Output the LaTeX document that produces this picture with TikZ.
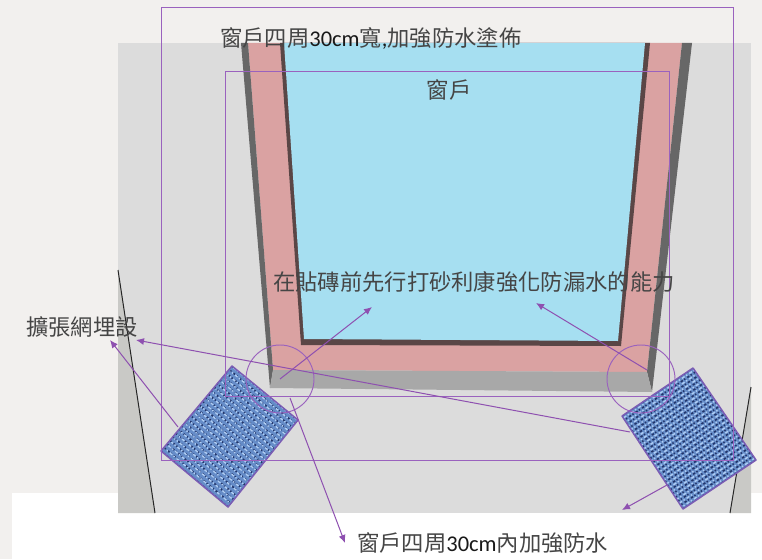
\documentclass[tikz,border=0pt]{standalone}
\usepackage{fontspec}
\setmainfont{Carlito}
\newfontfamily\cjk{Noto Sans CJK TC}
\usetikzlibrary{calc,arrows.meta}
\definecolor{pageBg}{HTML}{F2F0EE}
\definecolor{wallGray}{HTML}{DCDCDC}
\definecolor{sideGray}{HTML}{C9C9C6}
\definecolor{glass}{HTML}{A6DFF1}
\definecolor{pinkBand}{HTML}{DAA2A2}
\definecolor{darkSide}{HTML}{676767}
\definecolor{sillGray}{HTML}{A8A8A8}
\definecolor{innerDark}{HTML}{5A4646}
\definecolor{purpleLine}{HTML}{9A62BE}
\definecolor{arrowPurple}{HTML}{8E50B0}
\definecolor{meshBase}{HTML}{658CC8}
\definecolor{meshDark}{HTML}{22356A}
\definecolor{meshLight}{HTML}{B0CEF4}
\definecolor{meshEdge}{HTML}{7A5CB4}
\definecolor{labelInk}{HTML}{454545}
\tikzset{
  frameline/.style={draw=purpleLine,line width=0.95pt},
  callout/.style={draw=arrowPurple,line width=1pt,-{Latex[length=8pt,width=7pt]}},
  lbl/.style={text=labelInk,inner sep=0pt,font=\fontsize{22.3}{24}\selectfont\cjk},
}
\newcommand{\latinpart}[1]{{\fontsize{22.5}{24}\selectfont\rmfamily\color{black!90}#1}}
\newcommand{\meshpatch}[4]{%
  \begin{scope}
    \clip #1 -- #2 -- #3 -- #4 -- cycle;
    \fill[meshBase] #1 -- #2 -- #3 -- #4 -- cycle;
    \foreach \i in {0,...,24}{
      \pgfmathsetmacro{\t}{\i/24}
      \pgfmathsetmacro{\ph}{mod(\i*2.3,5)}
      \pgfmathsetmacro{\phb}{mod(\i*3.1,4)}
      \draw[meshDark,line width=1.6pt,dash pattern=on 2.4pt off 1.6pt on 1.4pt off 2.4pt,dash phase=\ph pt]
        ($#1!\t!#4$) -- ($#2!\t!#3$);
      \draw[meshLight,line width=1.4pt,dash pattern=on 3.2pt off 1.8pt on 1.4pt off 2.4pt,dash phase=\phb pt]
        ($($#1!\t!#4$)+(1.6,1.8)$) -- ($($#2!\t!#3$)+(1.6,1.8)$);
    }
  \end{scope}
  \draw[meshEdge,line width=1.5pt,line join=round] #1 -- #2 -- #3 -- #4 -- cycle;
}
\begin{document}
\begin{tikzpicture}[x=1pt,y=-1pt]
\useasboundingbox (0,0) rectangle (762,559);
% page and wall
\fill[pageBg] (0,0) rectangle (762,559);
\fill[white] (12,493) rectangle (762,559);
\fill[wallGray] (118,43) rectangle (751,513);
\fill[sideGray] (118,270) -- (155,513) -- (118,513) -- cycle;
\fill[sideGray] (751,387) -- (730,513) -- (751,513) -- cycle;
\draw[black!85,line width=1pt] (118,270) -- (155,513);
\draw[black!85,line width=1pt] (751,387) -- (730,513);
% window
\fill[pinkBand] (248,43) -- (682,43) -- (647,372) -- (273,370) -- cycle;
\fill[darkSide] (241,43) -- (248,43) -- (273,370) -- (270,388) -- cycle;
\fill[darkSide] (682,43) -- (692,43) -- (652,392) -- (647,372) -- cycle;
\fill[sillGray] (273,370) -- (647,372) -- (652,392) -- (270,388) -- cycle;
\fill[innerDark] (280,43) -- (650,43) -- (621,346) -- (301,345) -- cycle;
\fill[glass] (284,43) -- (645,43) -- (618,341) -- (304,339) -- cycle;
% mesh patches
\meshpatch{(232,366)}{(298,420)}{(228,507)}{(161,451)}
\meshpatch{(622,416)}{(693,368)}{(756,460)}{(683,509)}
% frames and circles
\draw[frameline] (161,7) rectangle (733,460);
\draw[frameline] (225,71) rectangle (669,396);
\draw[frameline] (280,379) circle[radius=34];
\draw[frameline] (641,379) circle[radius=34];
% labels
\node[lbl,anchor=west] (topLabel) at (220,38) {窗戶四周\latinpart{30cm}寬\latinpart{,}加強防水塗佈};
\node[lbl] (windowLabel) at (449,90) {窗戶};
\node[lbl,anchor=west] (sandLabel) at (273,282) {在貼磚前先行打砂利康強化防漏水的能力};
\node[lbl,anchor=west] (meshLabel) at (26,327) {擴張網埋設};
\node[lbl,anchor=west] (bottomLabel) at (357,543) {窗戶四周\latinpart{30cm}內加強防水};
% connector ends
\coordinate (a1s) at (280,379); \coordinate (a1e) at (372,307);
\coordinate (a2s) at (647,370); \coordinate (a2e) at (536,303);
\coordinate (a3s) at (630,432); \coordinate (a3e) at (136,340);
\coordinate (a4s) at (178,427); \coordinate (a4e) at (110,340);
\coordinate (a5s) at (290,398); \coordinate (a5e) at (345,543);
\coordinate (a6s) at (667,485); \coordinate (a6e) at (622,510);
\foreach \k in {1,...,6}{\draw[callout] (a\k s) -- (a\k e);}
\end{tikzpicture}
\end{document}
